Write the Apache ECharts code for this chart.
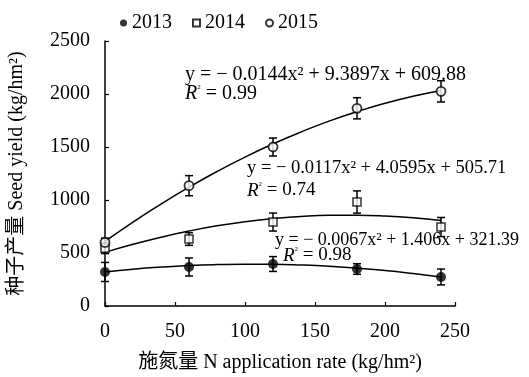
<!DOCTYPE html>
<html><head><meta charset="utf-8">
<script src="https://cdn.jsdelivr.net/npm/echarts@6/dist/echarts.min.js"></script>
<style>html,body{margin:0;padding:0;background:#fff}#c{width:529px;height:377px}</style>
</head><body><div id="c"></div>
<script>
var FONT = '"Liberation Serif", "Noto Sans CJK SC", serif';
var nRates = [0, 60, 120, 180, 240];
var years = ['2013', '2014', '2015'];
var yield2013 = [321, 368, 396, 349, 274];
var yield2014 = [545, 632, 792, 981, 745];
var yield2015 = [600, 1135, 1500, 1865, 2025];
var err2013 = [90, 85, 70, 50, 75];
var err2014 = [50, 60, 85, 105, 90];
var err2015 = [40, 95, 85, 100, 100];
// fitted trend lines, read at these x positions
var fitX = [0, 20, 40, 60, 80, 100, 120, 140, 160, 180, 200, 220, 240];
var fit2013 = [321, 347, 367, 382, 391, 395, 394, 387, 375, 357, 335, 306, 273];
var fit2014 = [506, 582, 649, 707, 756, 795, 824, 845, 856, 857, 850, 833, 806];
var fit2015 = [610, 792, 962, 1121, 1269, 1405, 1529, 1642, 1744, 1833, 1912, 1979, 2034];
var xTicks = [0, 50, 100, 150, 200, 250];
var yTicks = [0, 500, 1000, 1500, 2000, 2500];

function pairs(xs, ys) { return xs.map(function (x, i) { return [x, ys[i]]; }); }
function errData(ys, es) { return nRates.map(function (x, i) { return [x, ys[i] - es[i], ys[i] + es[i]]; }); }

function errSeries(ys, es) {
  return {
    type: 'custom', silent: true, z: 3,
    data: errData(ys, es),
    renderItem: function (params, api) {
      var x = api.value(0);
      var lo = api.coord([x, api.value(1)]);
      var hi = api.coord([x, api.value(2)]);
      var w = 4;
      return { type: 'group', children: [
        { type: 'line', shape: { x1: lo[0], y1: lo[1], x2: hi[0], y2: hi[1] }, style: { stroke: '#000', lineWidth: 1.5 } },
        { type: 'line', shape: { x1: lo[0] - w, y1: lo[1], x2: lo[0] + w, y2: lo[1] }, style: { stroke: '#000', lineWidth: 1.5 } },
        { type: 'line', shape: { x1: hi[0] - w, y1: hi[1], x2: hi[0] + w, y2: hi[1] }, style: { stroke: '#000', lineWidth: 1.5 } }
      ] };
    }
  };
}
function fitSeries(ys) {
  return { type: 'line', data: pairs(fitX, ys), smooth: true, showSymbol: false, silent: true, z: 2,
    lineStyle: { color: '#000', width: 1.5 } };
}
var FS = 20;
function richFor(fs) {
  return { i: { fontStyle: 'italic', fontFamily: FONT, fontSize: fs }, s: { fontFamily: FONT, fontSize: 7, verticalAlign: 'top', padding: [0, 0, 9, 0] } };
}

var chart = echarts.init(document.getElementById('c'));
chart.setOption({
  animation: false,
  backgroundColor: '#fff',
  grid: { left: 105, right: 74, top: 41, bottom: 71, containLabel: false, outerBoundsMode: 'none' },
  legend: {
    data: [
      { name: years[0], icon: 'circle' },
      { name: years[1], icon: 'rect' },
      { name: years[2], icon: 'circle' }
    ],
    left: 115, top: 8, itemWidth: 7, itemHeight: 7, itemGap: 20,
    textStyle: { fontFamily: FONT, fontSize: FS, color: '#000' }
  },
  xAxis: {
    type: 'value', min: 0, max: 250, interval: 50,
    name: '施氮量 N application rate (kg/hm²)', nameLocation: 'middle', nameGap: 47,
    nameTextStyle: { fontFamily: FONT, fontSize: FS, color: '#000' },
    axisLine: { lineStyle: { color: '#000', width: 1.5 } },
    axisTick: { show: true, inside: true, length: 4, lineStyle: { color: '#000', width: 1.2 } },
    axisLabel: { fontFamily: FONT, fontSize: FS, color: '#000', margin: 16 },
    splitLine: { show: false }
  },
  yAxis: {
    type: 'value', min: 0, max: 2500, interval: 500,
    name: '种子产量 Seed yield (kg/hm²)', nameLocation: 'middle', nameGap: 78,
    nameTextStyle: { fontFamily: FONT, fontSize: FS, color: '#000' },
    axisLine: { show: true, lineStyle: { color: '#000', width: 1.5 } },
    axisTick: { show: true, inside: true, length: 4, lineStyle: { color: '#000', width: 1.2 } },
    axisLabel: { fontFamily: FONT, fontSize: FS, color: '#000', margin: 15, formatter: function (v) { return String(v); } },
    splitLine: { show: false }
  },
  graphic: [
    { type: 'text', left: 185, top: 65, style: { text: 'y = − 0.0144x² + 9.3897x + 609.88', font: '20px ' + FONT, fill: '#000' } },
    { type: 'text', left: 185, top: 84, style: { text: '{i|R}{s|2} = 0.99', font: '20px ' + FONT, fill: '#000', rich: richFor(20) } },
    { type: 'text', left: 247, top: 159, style: { text: 'y = − 0.0117x² + 4.0595x + 505.71', font: '18.5px ' + FONT, fill: '#000' } },
    { type: 'text', left: 247, top: 181, style: { text: '{i|R}{s|2} = 0.74', font: '19px ' + FONT, fill: '#000', rich: richFor(19) } },
    { type: 'text', left: 275, top: 231, style: { text: 'y = − 0.0067x² + 1.406x + 321.39', font: '18px ' + FONT, fill: '#000' } },
    { type: 'text', left: 283, top: 246, style: { text: '{i|R}{s|2} = 0.98', font: '19px ' + FONT, fill: '#000', rich: richFor(19) } }
  ],
  series: [
    fitSeries(fit2013), fitSeries(fit2014), fitSeries(fit2015),
    errSeries(yield2013, err2013), errSeries(yield2014, err2014), errSeries(yield2015, err2015),
    { name: years[0], type: 'scatter', z: 4, data: pairs(nRates, yield2013), symbol: 'circle', symbolSize: 10,
      itemStyle: { color: '#000' } },
    { name: years[1], type: 'scatter', z: 4, data: pairs(nRates, yield2014), symbol: 'rect', symbolSize: 8,
      itemStyle: { color: '#fff', borderColor: '#000', borderWidth: 1.5 } },
    { name: years[2], type: 'scatter', z: 4, data: pairs(nRates, yield2015), symbol: 'circle', symbolSize: 9,
      itemStyle: { color: '#fff', borderColor: '#000', borderWidth: 1.8 } }
  ]
});
</script></body></html>
